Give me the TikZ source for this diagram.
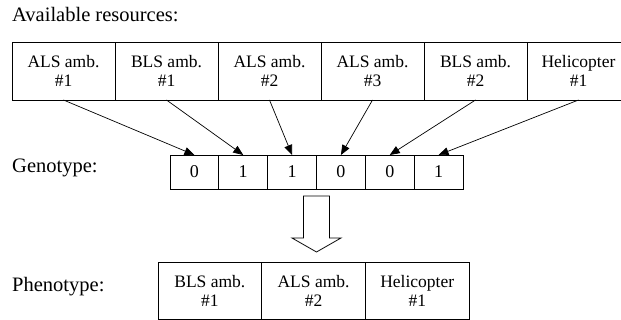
\documentclass[tikz,border=0pt]{standalone}
\usepackage{fontspec}
\setmainfont{Liberation Serif}
\usetikzlibrary{arrows.meta}
\tikzset{
  res/.style={draw, line width=0.8pt, inner sep=0pt, outer sep=0pt, anchor=north west,
    minimum width=103pt, minimum height=57.5pt, align=center,
    font=\fontsize{17.5}{19}\selectfont},
  phen/.style={res, minimum width=103.7pt, minimum height=57pt},
  gene/.style={draw, line width=0.8pt, inner sep=0pt, outer sep=0pt, anchor=north west,
    minimum width=48.83pt, minimum height=34pt,
    font=\fontsize{18}{20}\selectfont},
  lbl/.style={inner sep=0pt, anchor=west, font=\fontsize{20.5}{22}\selectfont},
  link/.style={line width=0.7pt, -{Triangle[length=10pt,width=8pt]}},
  bigarrow/.style={draw, line width=0.8pt, fill=white, line join=miter}
}
\begin{document}
\begin{tikzpicture}[x=1pt,y=-1pt]
\clip (0,0) rectangle (621,320);

% captions
\node[inner sep=0pt, anchor=base west, font=\fontsize{20.5}{22}\selectfont] (avail) at (12,21.5) {Available resources:};
\node[lbl] (geno) at (12,168) {Genotype:};
\node[lbl] (pheno) at (12,287) {Phenotype:};

% available resources
\node[res] (r1) at (12,42.5)  {ALS amb.\\\#1};
\node[res] (r2) at (115,42.5) {BLS amb.\\\#1};
\node[res] (r3) at (218,42.5) {ALS amb.\\\#2};
\node[res] (r4) at (321,42.5) {ALS amb.\\\#3};
\node[res] (r5) at (424,42.5) {BLS amb.\\\#2};
\node[res] (r6) at (527,42.5) {Helicopter\\\#1};

% genotype bits
\node[gene] (g1) at (170,155)    {0};
\node[gene] (g2) at (218.83,155) {1};
\node[gene] (g3) at (267.66,155) {1};
\node[gene] (g4) at (316.5,155)  {0};
\node[gene] (g5) at (365.33,155) {0};
\node[gene] (g6) at (414.16,155) {1};

% mapping from resources to bits
\foreach \i in {1,...,6}
  \draw[link] (r\i.south) -- (g\i.north);

% decoding arrow
\draw[bigarrow] (303.5,196) -- (329.5,196) -- (329.5,238) -- (341,238)
  -- (316.5,252) -- (292,238) -- (303.5,238) -- cycle;

% phenotype
\node[phen] (p1) at (158,262)   {BLS amb.\\\#1};
\node[phen] (p2) at (261.7,262) {ALS amb.\\\#2};
\node[phen] (p3) at (365.4,262) {Helicopter\\\#1};
\end{tikzpicture}
\end{document}
